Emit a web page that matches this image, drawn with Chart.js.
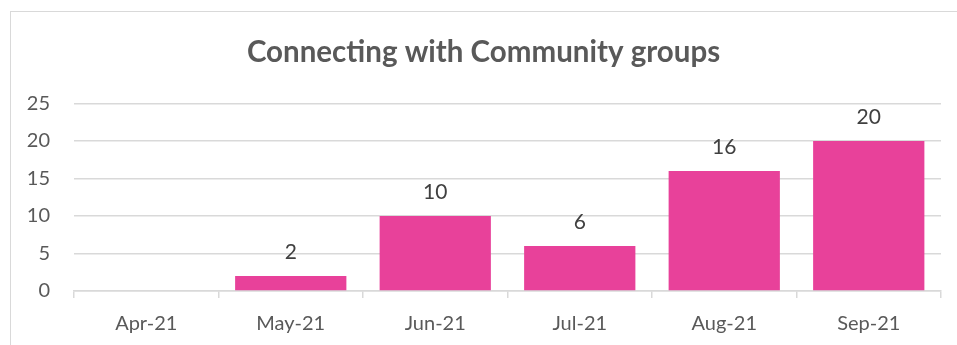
<!DOCTYPE html>
<html>
<head>
<meta charset="utf-8">
<script src="https://cdn.jsdelivr.net/npm/chart.js@4/dist/chart.umd.min.js"></script>
<style>
  html, body { margin: 0; padding: 0; background: #fff; overflow: hidden; }
  #frame { position: absolute; left: 10px; top: 11px; width: 1000px; height: 400px; border: 1px solid #d9d9d9; }
  #wrap { position: absolute; left: 0; top: 0; width: 957px; height: 345px; }
</style>
</head>
<body>
<div id="frame"></div>
<div id="wrap"><canvas id="community-chart" width="957" height="345"></canvas></div>
<script>
const months = ["Apr-21", "May-21", "Jun-21", "Jul-21", "Aug-21", "Sep-21"];
const groupCounts = [0, 2, 10, 6, 16, 20];
const yTicks = [0, 5, 10, 15, 20, 25];

const fontFamily = "Lato, 'Open Sans', sans-serif";

// value labels above each bar (zero bars get no label)
const barLabels = {
    id: "barLabels",
    afterDatasetsDraw(chart) {
        const ctx = chart.ctx;
        const meta = chart.getDatasetMeta(0);
        ctx.save();
        ctx.fillStyle = "#404040";
        ctx.font = "21px " + fontFamily;
        ctx.textAlign = "center";
        ctx.textBaseline = "middle";
        meta.data.forEach((bar, i) => {
            const v = groupCounts[i];
            if (!v) return;
            ctx.fillText(String(v), bar.x, bar.y - 24);
        });
        ctx.restore();
    }
};

new Chart(document.getElementById("community-chart").getContext("2d"), {
    type: "bar",
    data: {
        labels: months,
        datasets: [{
            label: "Community groups",
            data: groupCounts,
            backgroundColor: "#e8419a",
            borderWidth: 0,
            barPercentage: 0.77,
            categoryPercentage: 1
        }]
    },
    options: {
        responsive: false,
        animation: false,
        layout: { padding: { left: 26, right: 16, bottom: 0, top: 0 } },
        plugins: {
            legend: { display: false },
            tooltip: { enabled: false },
            title: {
                display: true,
                text: "Connecting with Community groups",
                color: "#595959",
                font: { family: fontFamily, size: 29.5, weight: "bold" },
                padding: { top: 35, bottom: 33 }
            }
        },
        scales: {
            y: {
                min: 0,
                max: 25,
                afterBuildTicks: (scale) => { scale.ticks = yTicks.map(v => ({ value: v })); },
                afterFit: (scale) => { scale.width = 48; },
                border: { display: false },
                grid: { color: "#d9d9d9", lineWidth: 1.5, drawTicks: false },
                ticks: {
                    color: "#595959",
                    padding: 24,
                    font: { family: fontFamily, size: 20 }
                }
            },
            x: {
                offset: true,
                afterFit: (scale) => { scale.height = 54; },
                border: { display: true, color: "#d9d9d9", width: 1.5 },
                grid: { offset: true, drawOnChartArea: false, drawTicks: true, tickLength: 7, color: "#d9d9d9", lineWidth: 1.5 },
                ticks: {
                    color: "#595959",
                    padding: 14,
                    font: { family: fontFamily, size: 20 }
                }
            }
        }
    },
    plugins: [barLabels]
});
</script>
</body>
</html>
